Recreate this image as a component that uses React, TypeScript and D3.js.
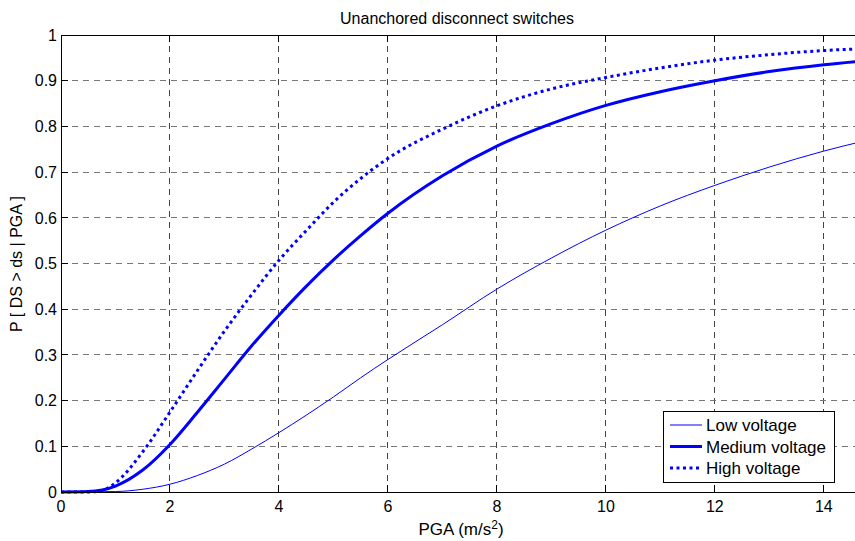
import React from 'react';
import * as d3 from 'd3';

const xTicks = [0, 2, 4, 6, 8, 10, 12, 14];
const yTicks = [0, 0.1, 0.2, 0.3, 0.4, 0.5, 0.6, 0.7, 0.8, 0.9, 1];

// PGA (m/s^2) sample points and read-off probabilities
const lowPga = [0, 1, 1.5, 2, 2.5, 3, 3.5, 4, 4.5, 5, 5.5, 6, 7, 8, 9, 10, 11, 12, 13, 14, 14.7];
const lowP = [0, 0.001, 0.006, 0.017, 0.036, 0.061, 0.094, 0.13, 0.168, 0.208, 0.25, 0.29, 0.366, 0.444, 0.512, 0.573, 0.626, 0.671, 0.711, 0.746, 0.767];

const medPga = [0, 0.5, 1, 1.5, 2, 2.5, 3, 3.5, 4, 4.5, 5, 5.5, 6, 7, 8, 9, 10, 11, 12, 13, 14, 14.7];
const medP = [0, 0.001, 0.013, 0.048, 0.104, 0.174, 0.247, 0.32, 0.387, 0.45, 0.508, 0.561, 0.61, 0.692, 0.757, 0.806, 0.846, 0.876, 0.9, 0.92, 0.935, 0.943];

const highPga = [0, 0.5, 0.75, 1, 1.5, 2, 2.5, 3, 3.5, 4, 4.5, 5, 5.5, 6, 7, 8, 9, 10, 11, 12, 13, 14, 14.7];
const highP = [0, 0, 0.003, 0.02, 0.088, 0.175, 0.265, 0.352, 0.432, 0.507, 0.572, 0.634, 0.686, 0.73, 0.794, 0.845, 0.882, 0.907, 0.928, 0.945, 0.957, 0.966, 0.97];

const seriesNames = ['Low voltage', 'Medium voltage', 'High voltage'];

const W = 855;
const H = 541;
const left = 61, right = 862, top = 35, bottom = 492;
const font = 'Liberation Sans, Arial, Helvetica, sans-serif';

export default function App() {
  const x = d3.scaleLinear().domain([0, 14.7]).range([left, right]);
  const y = d3.scaleLinear().domain([0, 1]).range([bottom, top]);

  const line = d3.line<[number, number]>()
    .x(d => x(d[0]))
    .y(d => y(d[1]))
    .curve(d3.curveMonotoneX);

  const zip = (a: number[], b: number[]) => a.map((v, i) => [v, b[i]] as [number, number]);

  const series = [
    { name: seriesNames[0], pts: zip(lowPga, lowP), width: 1, dash: undefined },
    { name: seriesNames[1], pts: zip(medPga, medP), width: 3, dash: undefined },
    { name: seriesNames[2], pts: zip(highPga, highP), width: 3, dash: '3 3.5' },
  ];

  return (
    <div style={{ position: 'absolute', left: 0, top: 0 }}>
      <svg width={W} height={H} style={{ display: 'block', background: '#fff' }} fontFamily={font}>
        <defs>
          <clipPath id="plot">
            <rect x={left} y={top - 2} width={right - left} height={bottom - top + 4} />
          </clipPath>
        </defs>
        <rect width={W} height={H} fill="#fff" />

        {/* grid */}
        {xTicks.filter(t => t > 0).map(t => (
          <line key={'gx' + t} x1={x(t)} x2={x(t)} y1={top} y2={bottom}
            stroke="#444" strokeWidth={1} strokeDasharray="6 5" shapeRendering="crispEdges" />
        ))}
        {yTicks.filter(t => t > 0 && t < 1).map(t => (
          <line key={'gy' + t} x1={left} x2={right} y1={y(t)} y2={y(t)}
            stroke="#777" strokeWidth={1} strokeDasharray="6 5" shapeRendering="crispEdges" />
        ))}

        {/* ticks */}
        {xTicks.map(t => (
          <g key={'tx' + t}>
            <line x1={x(t)} x2={x(t)} y1={bottom} y2={bottom - 7} stroke="#000" shapeRendering="crispEdges" />
            <line x1={x(t)} x2={x(t)} y1={top} y2={top + 7} stroke="#000" shapeRendering="crispEdges" />
            <text x={x(t)} y={bottom + 20} fontSize={16} textAnchor="middle">{t}</text>
          </g>
        ))}
        {yTicks.map(t => (
          <g key={'ty' + t}>
            <line x1={left} x2={left + 7} y1={y(t)} y2={y(t)} stroke="#000" shapeRendering="crispEdges" />
            <text x={left - 4} y={y(t)} dy="0.36em" fontSize={16} textAnchor="end">{t}</text>
          </g>
        ))}

        {/* curves */}
        <g clipPath="url(#plot)">
          {series.map(s => (
            <path key={s.name} d={line(s.pts) || ''} fill="none" stroke="#0000ff"
              strokeWidth={s.width} strokeDasharray={s.dash} />
          ))}
        </g>

        {/* axes box */}
        <rect x={left} y={top} width={right - left} height={bottom - top} fill="none" stroke="#000" strokeWidth={1} shapeRendering="crispEdges" />

        {/* legend */}
        <g>
          <rect x={663} y={411} width={171} height={71} fill="#fff" stroke="#000" strokeWidth={1} shapeRendering="crispEdges" />
          {series.map((s, i) => (
            <g key={'lg' + s.name} transform={`translate(0, ${425 + i * 21.5})`}>
              <line x1={670} x2={702} y1={0} y2={0} stroke="#0000ff" strokeWidth={s.width} strokeDasharray={s.dash} />
              <text x={706} y={0} dy="0.36em" fontSize={17}>{s.name}</text>
            </g>
          ))}
        </g>

        {/* titles */}
        <text x={457} y={24} fontSize={16} textAnchor="middle">Unanchored disconnect switches</text>
        <text x={461} y={535} fontSize={17} textAnchor="middle">
          PGA (m/s<tspan dy={-6} fontSize={12}>2</tspan><tspan dy={6}>)</tspan>
        </text>
        <text transform="translate(22, 264) rotate(-90)" fontSize={16} textAnchor="middle">P [ DS &gt; ds | PGA ]</text>
      </svg>
    </div>
  );
}
